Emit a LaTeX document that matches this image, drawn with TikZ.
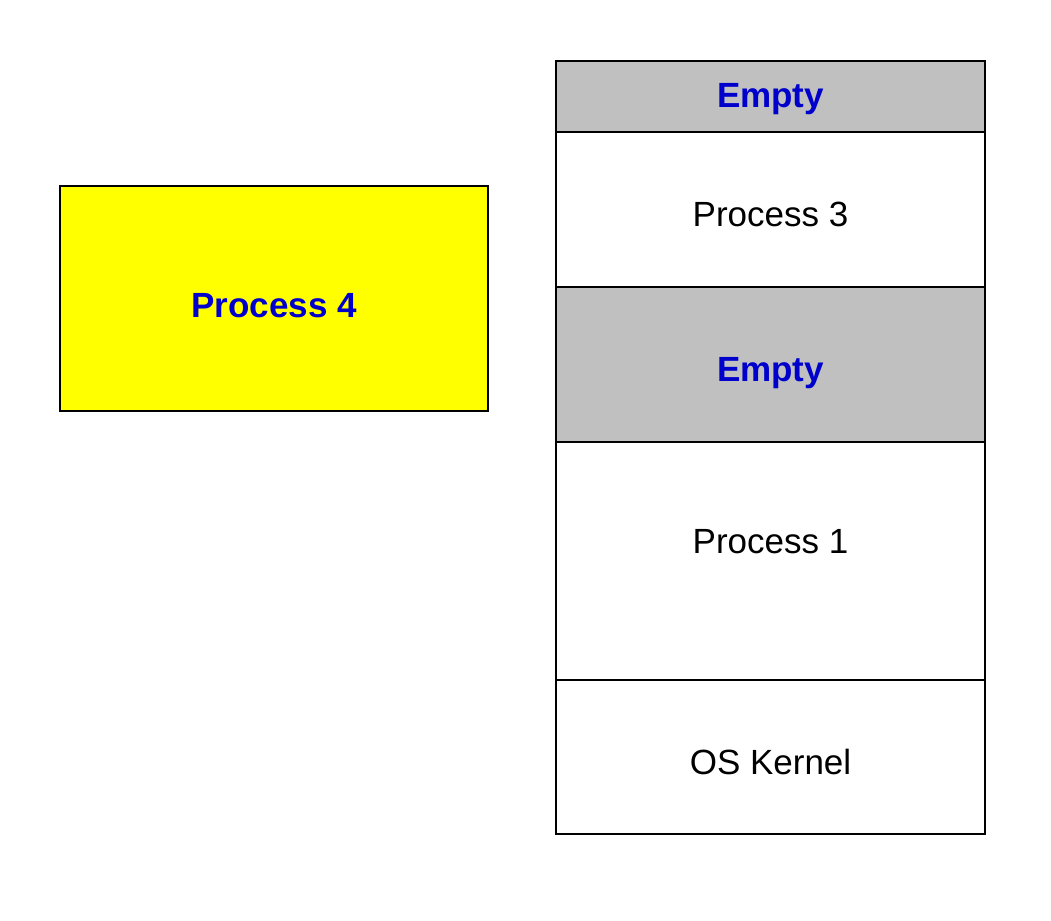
\documentclass[tikz,border=0pt]{standalone}
\usepackage{fontspec}
\setmainfont{Liberation Sans}
\usetikzlibrary{positioning}
\definecolor{memgray}{RGB}{192,192,192}
\definecolor{memblue}{RGB}{0,0,204}
\definecolor{memyellow}{RGB}{255,255,0}
\tikzset{
  slot/.style={
    draw=black,
    line width=1.1pt,
    fill=white,
    minimum width=429pt,
    inner sep=0pt,
    outer sep=0pt,
    text height=34pt,
    text depth=0pt,
    font=\fontsize{35}{42}\selectfont
  },
  freeslot/.style={
    slot,
    fill=memgray,
    text=memblue,
    font=\bfseries\fontsize{35}{42}\selectfont
  },
  incoming/.style={
    draw=black,
    line width=1.1pt,
    fill=memyellow,
    text=memblue,
    minimum width=428pt,
    minimum height=225pt,
    inner sep=0pt,
    text height=37pt,
    text depth=0pt,
    font=\bfseries\fontsize{35}{42}\selectfont
  },
  slottext/.style={
    inner sep=0pt,
    font=\fontsize{35}{42}\selectfont
  }
}
\begin{document}
\begin{tikzpicture}[x=1pt,y=-1pt]
  \useasboundingbox (0,0) rectangle (1051,920);
  % process waiting to be loaded
  \node[incoming] (proc4) at (274,298.5) {Process 4};
  % memory column, top to bottom
  \node[freeslot,minimum height=71pt,text height=23pt] (hole2) at (770.5,96.5) {Empty};
  \node[slot,minimum height=155pt,below=0pt of hole2] (proc3) {Process 3};
  \node[freeslot,minimum height=155pt,below=0pt of proc3] (hole1) {Empty};
  \node[slot,minimum height=238pt,below=0pt of hole1] (proc1) {};
  \node[slottext] (proc1text) at (770.5,542) {Process 1};
  \node[slot,minimum height=154pt,below=0pt of proc1] (kernel) {OS Kernel};
\end{tikzpicture}
\end{document}
